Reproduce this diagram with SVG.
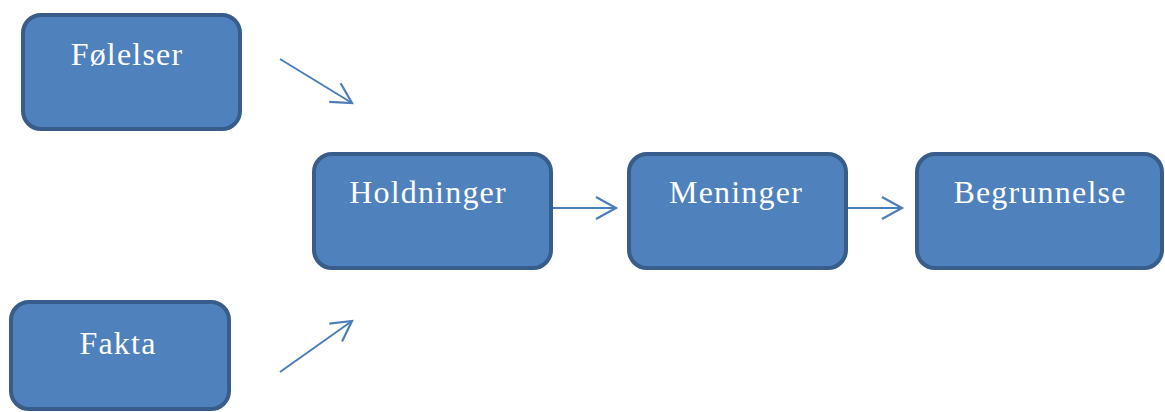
<svg xmlns="http://www.w3.org/2000/svg" width="1165" height="412" viewBox="0 0 1165 412">
<style>
.box{fill:#4f81bd;stroke:#385d8a;stroke-width:4}
.lbl{font-family:"Liberation Serif","Times New Roman",serif;font-size:32px;fill:#ffffff;text-anchor:middle;letter-spacing:1.2px}
.conn{stroke:#4a7ebb;stroke-width:2;fill:none;marker-end:url(#arr)}
</style>
<defs>
<marker id="arr" markerUnits="userSpaceOnUse" viewBox="-24 -14 28 28" refX="0" refY="0" markerWidth="28" markerHeight="28" orient="auto">
<path d="M-20,-11 L0,0 L-20,11" fill="none" stroke="#4a7ebb" stroke-width="2.2"/>
</marker>
</defs>
<rect width="1165" height="412" fill="#ffffff"/>
<g id="connectors">
<line class="conn" x1="280" y1="59" x2="352" y2="103"/>
<line class="conn" x1="280" y1="372" x2="352" y2="321"/>
<line class="conn" x1="553" y1="208" x2="616" y2="208"/>
<line class="conn" x1="848" y1="208" x2="902" y2="208"/>
</g>
<g id="node-folelser">
<rect class="box" x="23" y="15" width="217" height="114" rx="18"/>
<text class="lbl" x="127" y="65">Følelser</text>
</g>
<g id="node-fakta">
<rect class="box" x="11" y="302" width="218" height="107" rx="18"/>
<text class="lbl" x="118" y="354">Fakta</text>
</g>
<g id="node-holdninger">
<rect class="box" x="314" y="154" width="237" height="114" rx="18"/>
<text class="lbl" x="428" y="203">Holdninger</text>
</g>
<g id="node-meninger">
<rect class="box" x="629" y="154" width="217" height="114" rx="18"/>
<text class="lbl" x="736" y="203">Meninger</text>
</g>
<g id="node-begrunnelse">
<rect class="box" x="917" y="154" width="245" height="114" rx="18"/>
<text class="lbl" x="1040" y="203">Begrunnelse</text>
</g>
</svg>
